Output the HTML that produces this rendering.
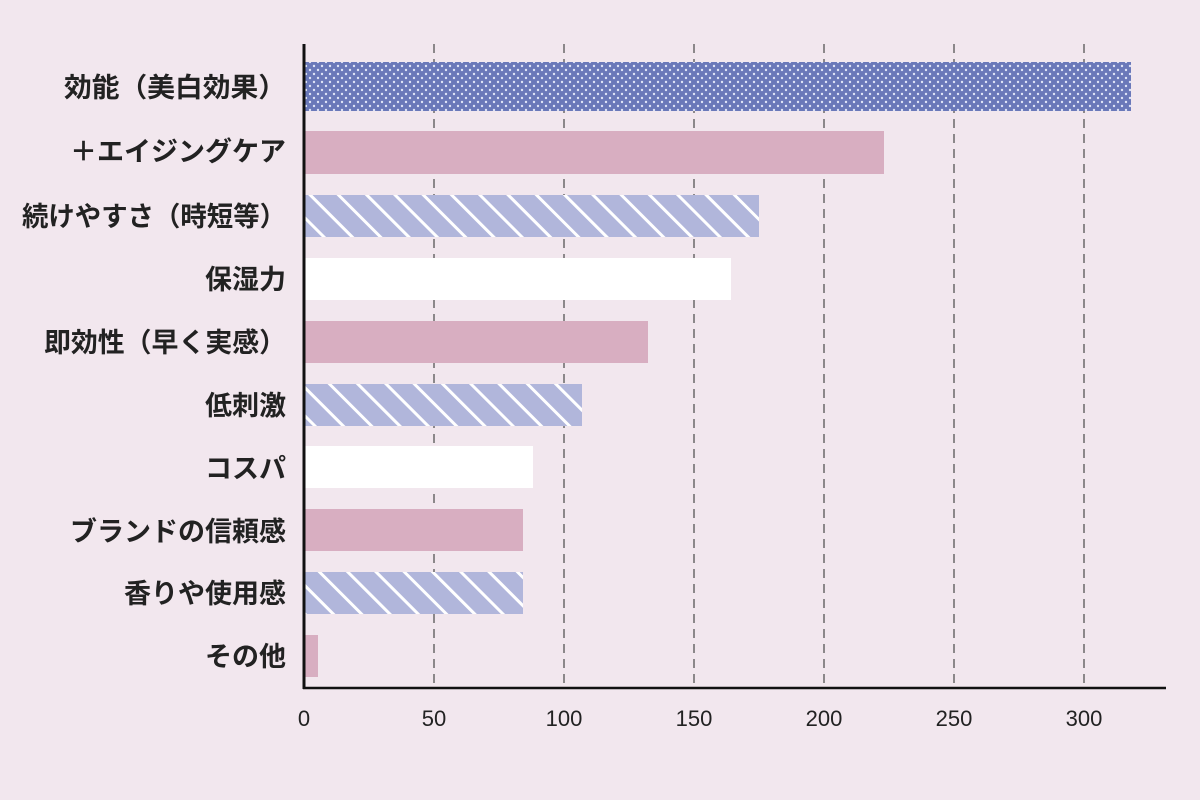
<!DOCTYPE html>
<html><head><meta charset="utf-8"><style>
html,body{margin:0;padding:0;background:#f2e7ee;}
svg{display:block}
.l{font-family:"Liberation Sans","Noto Sans CJK JP",sans-serif;font-weight:bold;font-size:27px;fill:#222;text-anchor:end}
.t{font-family:"Liberation Sans","Noto Sans CJK JP",sans-serif;font-size:22px;fill:#222;text-anchor:middle}
</style></head><body>
<svg width="1200" height="800" viewBox="0 0 1200 800" xmlns="http://www.w3.org/2000/svg">
<defs>
<pattern id="dots" width="8" height="8" patternUnits="userSpaceOnUse">
<rect width="8" height="8" fill="#6a78b9"/><circle cx="2" cy="2" r="1.2" fill="#dfe4f7"/><circle cx="6" cy="6" r="1.2" fill="#dfe4f7"/>
</pattern>
<pattern id="hatch" width="20" height="20" patternUnits="userSpaceOnUse" patternTransform="rotate(-45)">
<rect width="20" height="20" fill="#b1b6db"/><rect x="0" y="0" width="3" height="20" fill="#ffffff"/>
</pattern>
</defs>
<rect width="1200" height="800" fill="#f2e7ee"/>
<g stroke="#555" stroke-width="1.3" stroke-dasharray="9,6">
<line x1="434" y1="44" x2="434" y2="688"/>
<line x1="564" y1="44" x2="564" y2="688"/>
<line x1="694" y1="44" x2="694" y2="688"/>
<line x1="824" y1="44" x2="824" y2="688"/>
<line x1="954" y1="44" x2="954" y2="688"/>
<line x1="1084" y1="44" x2="1084" y2="688"/>
</g>
<rect x="305" y="62" width="826" height="49" fill="url(#dots)"/>
<rect x="305" y="131" width="579" height="43" fill="#d8aec1"/>
<rect x="305" y="195" width="454" height="42" fill="url(#hatch)"/>
<rect x="305" y="258" width="426" height="42" fill="#ffffff"/>
<rect x="305" y="321" width="343" height="42" fill="#d8aec1"/>
<rect x="305" y="384" width="277" height="42" fill="url(#hatch)"/>
<rect x="305" y="446" width="228" height="42" fill="#ffffff"/>
<rect x="305" y="509" width="218" height="42" fill="#d8aec1"/>
<rect x="305" y="572" width="218" height="42" fill="url(#hatch)"/>
<rect x="305" y="635" width="13" height="42" fill="#d8aec1"/>
<line x1="304" y1="44" x2="304" y2="689" stroke="#111" stroke-width="3"/>
<line x1="303" y1="688" x2="1166" y2="688" stroke="#111" stroke-width="2.5"/>
<text class="l" x="286" y="97" textLength="222" lengthAdjust="spacingAndGlyphs">効能（美白効果）</text>
<text class="l" x="286" y="161">＋エイジングケア</text>
<text class="l" x="286" y="226" textLength="264" lengthAdjust="spacingAndGlyphs">続けやすさ（時短等）</text>
<text class="l" x="286" y="289">保湿力</text>
<text class="l" x="286" y="352" textLength="242" lengthAdjust="spacingAndGlyphs">即効性（早く実感）</text>
<text class="l" x="286" y="415">低刺激</text>
<text class="l" x="286" y="478">コスパ</text>
<text class="l" x="286" y="541">ブランドの信頼感</text>
<text class="l" x="286" y="603">香りや使用感</text>
<text class="l" x="286" y="666">その他</text>
<text class="t" x="304" y="726">0</text>
<text class="t" x="434" y="726">50</text>
<text class="t" x="564" y="726">100</text>
<text class="t" x="694" y="726">150</text>
<text class="t" x="824" y="726">200</text>
<text class="t" x="954" y="726">250</text>
<text class="t" x="1084" y="726">300</text>
</svg>
</body></html>
